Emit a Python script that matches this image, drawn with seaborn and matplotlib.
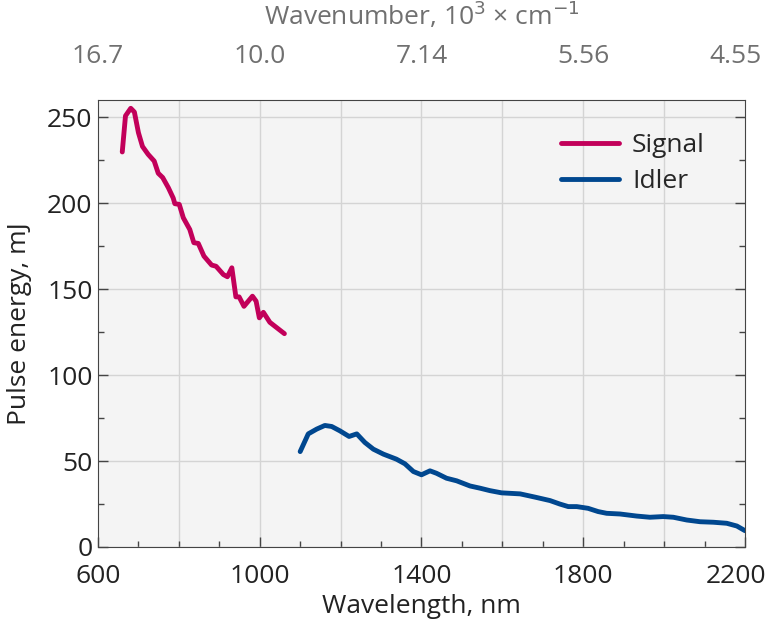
import pandas as pd
import seaborn as sns
import matplotlib.pyplot as plt
from matplotlib.ticker import MultipleLocator
from matplotlib.transforms import ScaledTranslation

signal_wl = [660, 668, 681, 690, 700, 710, 724, 739, 749, 760, 774, 786, 790, 801,
             811, 827, 837, 848, 862, 881, 892, 910, 920, 931, 941, 949, 961, 982,
             991, 999, 1009, 1025, 1043, 1061]
signal_e = [229.8, 250.8, 255.2, 253.0, 241.0, 233.0, 228.4, 224.5, 217.4, 214.9,
            209.0, 203.0, 199.7, 199.3, 191.5, 184.7, 177.0, 176.6, 169.2, 164.0,
            163.3, 158.5, 157.2, 162.4, 145.5, 145.5, 140.0, 145.9, 143.0, 133.3,
            136.5, 130.7, 127.4, 124.1]

idler_wl = [1100, 1120, 1141, 1161, 1178, 1198, 1221, 1240, 1260, 1281, 1306, 1338,
            1359, 1380, 1400, 1421, 1437, 1462, 1487, 1520, 1545, 1569, 1598, 1644,
            1681, 1718, 1742, 1763, 1784, 1812, 1837, 1858, 1891, 1932, 1965, 1998,
            2023, 2056, 2089, 2122, 2155, 2180, 2200]
idler_e = [55.5, 65.8, 68.6, 70.7, 70.1, 67.6, 64.3, 65.8, 60.8, 56.9, 54.0, 51.1,
           48.4, 43.9, 42.0, 44.3, 42.9, 40.0, 38.5, 35.5, 34.2, 32.8, 31.5, 30.9,
           29.0, 27.0, 25.0, 23.5, 23.5, 22.5, 20.6, 19.6, 19.2, 18.0, 17.3, 17.7,
           17.3, 15.7, 14.7, 14.4, 13.8, 12.2, 9.5]

bottom_ticks = [600, 1000, 1400, 1800, 2200]
top_labels = ["16.7", "10.0", "7.14", "5.56", "4.55"]

df = pd.concat([
    pd.DataFrame({"wl": signal_wl, "E": signal_e, "beam": "Signal"}),
    pd.DataFrame({"wl": idler_wl, "E": idler_e, "beam": "Idler"}),
])

sns.set_style("ticks")
plt.rcParams['font.family'] = ['Open Sans', 'DejaVu Sans']
fs = 19

fig = plt.figure(figsize=(7.68, 6.24), dpi=100)
ax = fig.add_axes([0.1276, 0.1234, 0.8424, 0.7163])
ax.set_facecolor("#f4f4f4")

sns.lineplot(data=df, x="wl", y="E", hue="beam", ax=ax, sort=False,
             palette={"Signal": "#c2005a", "Idler": "#00478f"}, linewidth=3.5)

ax.set_xlim(600, 2200)
ax.set_ylim(0, 260)
ax.set_xticks(bottom_ticks)
ax.xaxis.set_minor_locator(MultipleLocator(100))
ax.yaxis.set_major_locator(MultipleLocator(50))
ax.yaxis.set_minor_locator(MultipleLocator(25))
for v in range(800, 2200, 200):
    ax.axvline(v, color="#d4d4d4", lw=1, zorder=0)
ax.grid(axis="y", color="#d4d4d4", lw=1)
ax.set_axisbelow(True)
ax.tick_params(which="both", direction="in", top=True, right=True,
               labelsize=fs, colors="#222222")
ax.tick_params(which="major", length=7, width=1, color="#444444")
ax.tick_params(which="minor", length=4, width=1, color="#444444")
ax.tick_params(axis="x", which="major", pad=12)
ax.tick_params(axis="y", which="major", pad=4)
for s in ax.spines.values():
    s.set_color("#444444")
ax.set_xlabel("Wavelength, nm", fontsize=fs, color="#222222", labelpad=4)
ax.set_ylabel("Pulse energy, mJ", fontsize=fs, color="#222222", labelpad=11)

top = ax.twiny()
top.set_xlim(ax.get_xlim())
top.set_xticks(bottom_ticks)
top.set_xticklabels(top_labels)
top.tick_params(axis="x", length=0, labelsize=fs, labelcolor="#707070", pad=22)
top.set_xlabel("Wavenumber, 10$^3$ × cm$^{-1}$", fontsize=fs, color="#707070",
               labelpad=14)
for s in top.spines.values():
    s.set_visible(False)

shift = ScaledTranslation(-9 / 100, 0, fig.dpi_scale_trans)
for lab in (ax.get_xticklabels()[-1], top.get_xticklabels()[-1]):
    lab.set_transform(lab.get_transform() + shift)

ax.legend(loc="upper left", frameon=False, fontsize=fs, handlelength=2.2,
          handletextpad=0.5, labelspacing=0.42, borderaxespad=0,
          bbox_to_anchor=(0.699, 0.95))

fig.savefig("out.png", dpi=100)
